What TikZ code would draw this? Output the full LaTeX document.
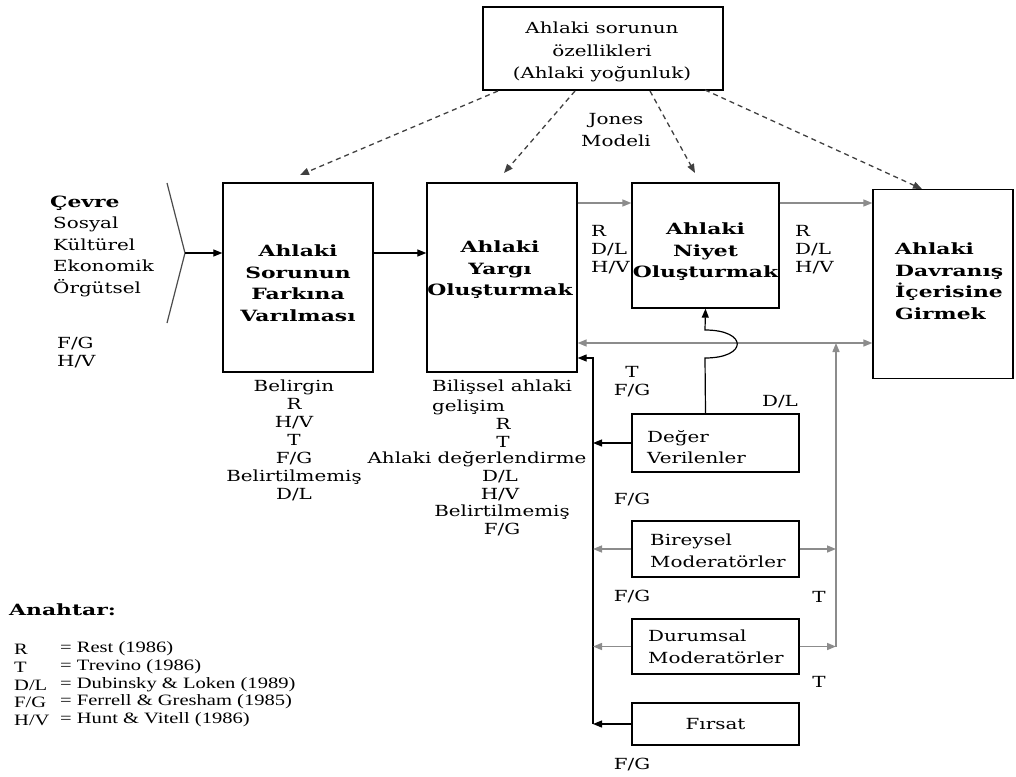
\documentclass[tikz,border=0pt]{standalone}
\usepackage{fontspec}
\setmainfont{DejaVu Serif}[FakeStretch=1.3,BoldFeatures={FakeStretch=1.41}]
\newfontfamily\keyfont{Liberation Serif}[FakeStretch=1.3]
\usetikzlibrary{arrows.meta}
\begin{document}
\begin{tikzpicture}[x=1pt,y=-1pt,
  tip/.style={-{Triangle[length=9pt,width=7pt]}},
  box/.style={draw,line width=1.3pt,inner sep=0pt},
  blackarrow/.style={tip,line width=1.2pt,draw=black},
  grayarrow/.style={tip,line width=1.5pt,draw=black!45},
  dasharrow/.style={tip,line width=1.3pt,draw=black!75,dash pattern=on 5pt off 4pt},
  main/.style={font=\fontsize{15.5}{21.5}\selectfont\bfseries,align=center},
  txt/.style={font=\fontsize{15.3}{21.5}\selectfont},
  lbl/.style={font=\fontsize{15.3}{18}\selectfont,align=center},
  keytxt/.style={font=\keyfont\fontsize{15.8}{17.6}\selectfont,anchor=west,inner sep=0pt}]
\useasboundingbox (0,0) rectangle (1016,776);

% main process boxes
\node[box,minimum width=150pt,minimum height=189pt] (box1) at (298,277.5) {};
\node[box,minimum width=150pt,minimum height=189pt] (box2) at (502,277.5) {};
\node[box,minimum width=147pt,minimum height=125pt] (box3) at (705.5,245.5) {};
\node[box,minimum width=140pt,minimum height=189pt] (box4) at (943,284) {};
\node[box,minimum width=240pt,minimum height=83pt] (top) at (603,48.5) {};
\node[font=\fontsize{15.3}{22.5}\selectfont,align=center,inner sep=0pt] (toptext) at (602,52)
  {Ahlaki sorunun\\özellikleri\\(Ahlaki yoğunluk)};

\node[main] (t1) at (298,283) {Ahlaki\\Sorunun\\Farkına\\Varılması};
\node[main] (t2) at (500,270) {Ahlaki\\Yargı\\Oluşturmak};
\node[main] (t3) at (705.5,252) {Ahlaki\\Niyet\\Oluşturmak};
\node[main,align=left,anchor=west,inner sep=0pt] (t4) at (895,281) {Ahlaki\\Davranış\\İçerisine\\Girmek};

% moderating factors
\node[box,minimum width=167pt,minimum height=58pt] (deger) at (715.5,443) {};
\node[box,minimum width=167pt,minimum height=56pt] (bireysel) at (715.5,549) {};
\node[box,minimum width=167pt,minimum height=55pt] (durumsal) at (715.5,646.5) {};
\node[box,minimum width=167pt,minimum height=42pt,font=\fontsize{15.3}{21}\selectfont] (firsat) at (715.5,724) {Fırsat};
\node[txt,align=left,anchor=west,inner sep=0pt] (tdeger) at (647,447) {Değer\\Verilenler};
\node[txt,align=left,anchor=west,inner sep=0pt] (tbir) at (650,551) {Bireysel\\Moderatörler};
\node[txt,align=left,anchor=west,inner sep=0pt] (tdur) at (648,647) {Durumsal\\Moderatörler};

% environment
\node[anchor=west,inner sep=0pt,font=\fontsize{15.5}{21}\selectfont\bfseries] (cevre) at (50,203) {Çevre};
\node[txt,align=left,anchor=north west,inner sep=0pt] (cevreler) at (53,217) {Sosyal\\Kültürel\\Ekonomik\\Örgütsel};
\node[lbl,align=left,anchor=west,inner sep=0pt] (envsrc) at (57,353) {F/G\\H/V};

% source labels
\node[lbl,anchor=north,inner sep=0pt] (src1) at (294,380) {Belirgin\\R\\H/V\\T\\F/G\\Belirtilmemiş\\D/L};
\node[lbl,anchor=north west,inner sep=0pt] (src2a) at (432,380) {Bilişsel ahlaki};
\node[lbl,anchor=north west,inner sep=0pt] (src2b) at (432,400) {gelişim};
\node[lbl,anchor=north,inner sep=0pt] (src2c) at (503,418) {R\\T};
\node[lbl,anchor=north,inner sep=0pt] (src2d) at (477,451) {Ahlaki değerlendirme};
\node[lbl,anchor=north,inner sep=0pt] (src2e) at (500,470) {D/L\\H/V};
\node[lbl,anchor=north,inner sep=0pt] (src2f) at (502,505) {Belirtilmemiş\\F/G};
\node[lbl,align=left,anchor=west,inner sep=0pt] (src3) at (591,250) {R\\D/L\\H/V};
\node[lbl,align=left,anchor=west,inner sep=0pt] (src4) at (795,250) {R\\D/L\\H/V};
\node[lbl,inner sep=0pt] (srcT) at (632,382) {T\\F/G};
\node[lbl,inner sep=0pt] (srcDL) at (780,402) {D/L};
\node[lbl,inner sep=0pt] (srcFG1) at (632,500) {F/G};
\node[lbl,inner sep=0pt] (srcFG2) at (632,597) {F/G};
\node[lbl,inner sep=0pt] (srcT2) at (819,597) {T};
\node[lbl,inner sep=0pt] (srcT3) at (819,682) {T};
\node[lbl,inner sep=0pt] (srcFG3) at (632,765) {F/G};
\node[inner sep=0pt,font=\fontsize{15.3}{22}\selectfont,align=center] (jones) at (616,130) {Jones\\Modeli};

% key
\node[anchor=west,inner sep=0pt,font=\fontsize{15.5}{18}\selectfont\bfseries] (key) at (9,610) {Anahtar:};
\node[keytxt] (k1) at (14,649) {R};
\node[keytxt] (k2) at (14,667) {T};
\node[keytxt] (k3) at (14,685) {D/L};
\node[keytxt] (k4) at (14,702) {F/G};
\node[keytxt] (k5) at (14,720) {H/V};
\node[keytxt] (v1) at (60,649) {= Rest (1986)};
\node[keytxt] (v2) at (60,667) {= Trevino (1986)};
\node[keytxt] (v3) at (60,685) {= Dubinsky \& Loken (1989)};
\node[keytxt] (v4) at (60,702) {= Ferrell \& Gresham (1985)};
\node[keytxt] (v5) at (60,720) {= Hunt \& Vitell (1986)};

% helper coordinates
\coordinate (chtop) at (167,183);
\coordinate (chtip) at (185,253);
\coordinate (chbot) at (167,323);
\coordinate (flow) at (0,203);
\coordinate (fb) at (0,343);
\coordinate (busL) at (593,358);
\coordinate (busR) at (836,343);
\coordinate (hopbot) at (705,358);
\coordinate (hoptop) at (705,330);
\coordinate (d1) at (498,91);
\coordinate (d2) at (575,91);
\coordinate (d3) at (650,91);
\coordinate (d4) at (705,90);

% environment input
\draw[line width=1.2pt,draw=black!70] (chtop) -- (chtip) -- (chbot);
\draw[blackarrow] (chtip) -- (box1.west |- chtip);
\draw[blackarrow] (box1.east |- chtip) -- (box2.west |- chtip);

% main flow
\draw[grayarrow] (box2.east |- flow) -- (box3.west |- flow);
\draw[grayarrow] (box3.east |- flow) -- (box4.west |- flow);
\draw[grayarrow,{Triangle[length=9pt,width=7pt]}-{Triangle[length=9pt,width=7pt]}] (box2.east |- fb) -- (box4.west |- fb);

% intensity influences
\draw[dasharrow] (d1) -- (300,175);
\draw[dasharrow] (d2) -- (504,173);
\draw[dasharrow] (d3) -- (695,173);
\draw[dasharrow] (d4) -- (922,189);

% values to intention, hopping over the feedback line
\draw[blackarrow] (box3.south |- deger.north) -- (hopbot) .. controls (748,358) and (748,330) .. (hoptop) -- (box3.south);

% left bus into judgement
\draw[blackarrow] (busL |- firsat.west) -- (busL) -- (busL -| box2.east);
\draw[blackarrow] (deger.west) -- (deger.west -| busL);
\draw[grayarrow] (bireysel.west) -- (bireysel.west -| busL);
\draw[grayarrow] (durumsal.west) -- (durumsal.west -| busL);
\draw[blackarrow] (firsat.west) -- (firsat.west -| busL);

% right bus into the feedback line
\draw[grayarrow] (busR |- durumsal.east) -- (busR);
\draw[grayarrow] (bireysel.east) -- (bireysel.east -| busR);
\draw[grayarrow] (durumsal.east) -- (durumsal.east -| busR);
\end{tikzpicture}
\end{document}
